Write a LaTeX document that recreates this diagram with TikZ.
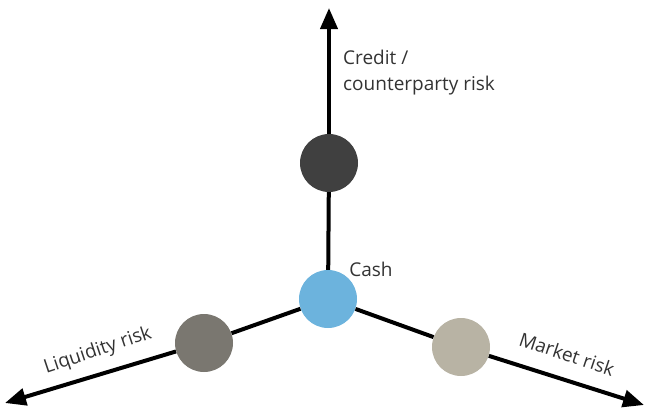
\documentclass[tikz,border=0pt]{standalone}
\usepackage{fontspec}
\setmainfont{Open Sans}
\usetikzlibrary{arrows.meta}
\definecolor{credit}{HTML}{404040}
\definecolor{liquid}{HTML}{7A7770}
\definecolor{market}{HTML}{B8B3A4}
\definecolor{cash}{HTML}{6CB3DD}
\definecolor{txt}{HTML}{333333}
\begin{document}
\begin{tikzpicture}[x=1pt,y=-1pt,
  ball/.style={circle,minimum size=58pt,inner sep=0pt,draw=none},
  link/.style={line width=4pt},
  axis/.style={line width=4pt,-{Triangle[length=21pt,width=17pt]}},
  lab/.style={text=txt,font=\fontsize{19}{26}\selectfont}]
\useasboundingbox (0,0) rectangle (649,408);
\coordinate (tipU) at (329,8);
\coordinate (tipL) at (5,403);
\coordinate (tipR) at (644,405);
\node[ball,fill=cash] (cash) at (328,299) {};
\node[ball,fill=credit] (credit) at (329,163) {};
\node[ball,fill=liquid] (liq) at (204,343) {};
\node[ball,fill=market] (mkt) at (461,347) {};
\draw[link] (cash) -- (credit);
\draw[link] (cash) -- (liq);
\draw[link] (cash) -- (mkt);
\draw[axis] (credit) -- (tipU);
\draw[axis] (liq) -- (tipL);
\draw[axis] (mkt) -- (tipR);
\node[lab,anchor=west,align=left,inner sep=0pt] (creditlab) at (343,73) {Credit /\\counterparty risk};
\node[lab,inner sep=0pt] (cashlab) at (371,269) {Cash};
\node[lab,rotate=18.5,inner sep=0pt] (liqlab) at (98,351) {Liquidity risk};
\node[lab,rotate=-18.5,inner sep=0pt] (mktlab) at (567,354) {Market risk};
\end{tikzpicture}
\end{document}
